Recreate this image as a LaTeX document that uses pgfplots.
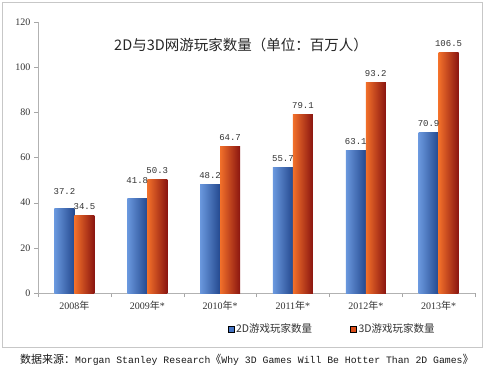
\documentclass[border=0pt]{standalone}
\usepackage{fontspec}
\setmainfont{Liberation Serif}
\newfontfamily\cjk{Noto Sans CJK SC}
\newfontfamily\mono{Liberation Mono}
\usepackage{pgfplots}
\pgfplotsset{compat=1.18}
\definecolor{bL}{HTML}{6A98DE}
\definecolor{bM}{HTML}{4676C6}
\definecolor{bD}{HTML}{24498F}
\definecolor{oL}{HTML}{F2702A}
\definecolor{oM}{HTML}{DC4E1A}
\definecolor{oD}{HTML}{8A1510}
\definecolor{txt}{HTML}{333333}
\pgfplotsset{
  barB/.style={ybar, bar shift=-10pt, draw=none, left color=bL, middle color=bM, right color=bD, forget plot,
    every node near coord/.append style={xshift=-10pt}},
  barO/.style={ybar, bar shift=10pt, draw=none, left color=oL, middle color=oM, right color=oD, forget plot,
    every node near coord/.append style={xshift=10pt}},
}
\begin{document}
\begin{tikzpicture}
\useasboundingbox (0,0) rectangle (486pt,373pt);
\fill[white] (0,0) rectangle (486pt,373pt);
\draw[black!22] (2pt,26pt) rectangle (482pt,371pt);
\begin{axis}[
  at={(38pt,80pt)}, anchor=south west, scale only axis,
  width=437pt, height=271pt,
  xmin=-0.5, xmax=5.5, ymin=0, ymax=120,
  axis x line*=bottom, axis y line*=left,
  axis line style={black!30},
  tick style={black!35},
  tick align=outside,
  major tick length=4pt,
  xtick={-0.5,0.5,1.5,2.5,3.5,4.5,5.5},
  x tick label as interval,
  xticklabels={2008{\cjk 年},2009{\cjk 年}*,2010{\cjk 年}*,2011{\cjk 年}*,2012{\cjk 年}*,2013{\cjk 年}*},
  xticklabel style={font=\fontsize{10}{12}\selectfont, text=txt, yshift=-1pt},
  ytick={0,20,...,120},
  yticklabel style={font=\fontsize{10}{12}\selectfont, text=txt},
  /pgf/number format/assume math mode=true,
  bar width=20pt,
  legend style={at={(0.673,-0.133)}, anchor=center, draw=none, fill=none,
    legend columns=2, font=\cjk\fontsize{10.5}{12}\selectfont, text=txt,
    /tikz/every even column/.append style={column sep=36pt}},
  legend image code/.code={\fill[#1] (0pt,-3pt) rectangle (6pt,3pt);},
  every node near coord/.append style={font=\mono\fontsize{9}{11}\selectfont, text=txt, anchor=center, yshift=9pt, fill=none, draw=none},
  nodes near coords,
  point meta=y,
  nodes near coords={\pgfmathprintnumber[fixed,precision=1,fixed zerofill]{\pgfplotspointmeta}},
]
% 2D series
\addplot[barB, every node near coord/.append style={yshift=8.6pt}] coordinates {(0,37.2)};
\addplot[barB, every node near coord/.append style={yshift=8.6pt}] coordinates {(1,41.8)};
\addplot[barB] coordinates {(2,48.2)};
\addplot[barB] coordinates {(3,55.7)};
\addplot[barB] coordinates {(4,63.1)};
\addplot[barB] coordinates {(5,70.9)};
% 3D series
\addplot[barO] coordinates {(0,34.5)};
\addplot[barO] coordinates {(1,50.3)};
\addplot[barO] coordinates {(2,64.7)};
\addplot[barO] coordinates {(3,79.1)};
\addplot[barO] coordinates {(4,93.2)};
\addplot[barO] coordinates {(5,106.5)};
\addlegendimage{fill=bM}
\addlegendentry{2D游戏玩家数量}
\addlegendimage{fill=oM}
\addlegendentry{3D游戏玩家数量}
\end{axis}
\node[text=black!85] at (241pt,328pt) {\cjk\fontsize{14.5}{17}\selectfont 2D与3D网游玩家数量（单位：百万人）};
\node[anchor=west, text=black!90, inner sep=0pt] at (20pt,13pt) {\cjk\fontsize{11}{13}\selectfont 数据来源：{\mono\fontsize{9.8}{12}\selectfont Morgan Stanley Research}《{\mono\fontsize{9.8}{12}\selectfont Why 3D Games Will Be Hotter Than 2D Games}》};
\end{tikzpicture}
\end{document}
